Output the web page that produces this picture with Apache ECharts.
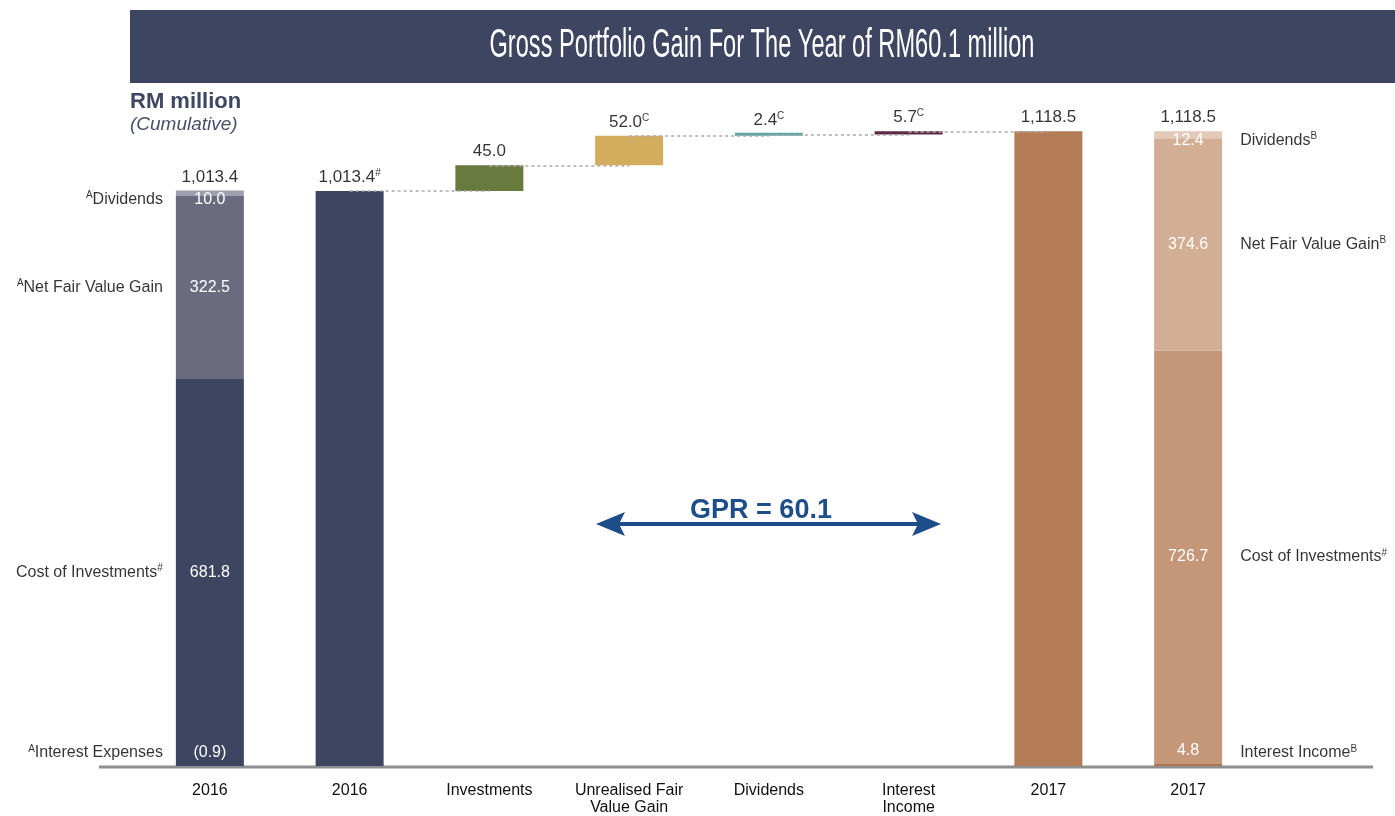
<!DOCTYPE html>
<html>
<head>
<meta charset="utf-8">
<script src="https://cdn.jsdelivr.net/npm/echarts@6/dist/echarts.min.js"></script>
<style>
html, body { margin: 0; padding: 0; background: #fff; }
#main { width: 1395px; height: 816px; }
</style>
</head>
<body>
<div id="main"></div>
<script>
var categories = ['2016', '2016', 'Investments', 'Unrealised Fair\nValue Gain', 'Dividends', 'Interest\nIncome', '2017', '2017'];

// 2016 breakdown, bottom to top
var open2016Values = [-0.9, 681.8, 322.5, 10.0];
var open2016Names = ['{s|A}Interest Expenses', 'Cost of Investments{s|#}', '{s|A}Net Fair Value Gain', '{s|A}Dividends'];
// 2017 breakdown, bottom to top
var close2017Values = [4.8, 726.7, 374.6, 12.4];
var close2017Names = ['Interest Income{s|B}', 'Cost of Investments{s|#}', 'Net Fair Value Gain{s|B}', 'Dividends{s|B}'];

var total2016 = 1013.4;
var total2017 = 1118.5;
var moveValues = [45.0, 52.0, 2.4, 5.7];   // Investments, Unrealised FV gain, Dividends, Interest income
var topNotes = ['', '#', '', 'C', 'C', 'C', '', ''];
var gprValue = 60.1;

var titleText = 'Gross Portfolio Gain For The Year of RM60.1 million';

// colours
var navy = '#3d4560';
var partColors2016 = [navy, navy, '#6a6b7f', '#a09fae'];
var partColors2017 = ['#ad7650', '#c59779', '#d1ae94', '#e3cab8'];
var moveColors = ['#687a3e', '#d4ac5e', '#5fa3a3', '#5e2a44'];
var totalColors = [navy, '#b37c56'];
var gprBlue = '#1d4e89';

function fmt(v) {
    var s = Math.abs(v).toFixed(1).replace(/\B(?=(\d{3})+(?!\d))/g, ',');
    return v < 0 ? '(' + s + ')' : s;
}
function blank() { return categories.map(function () { return '-'; }); }

var supRich = { s: { fontSize: 10, verticalAlign: 'top', lineHeight: 10 } };

var myChart = echarts.init(document.getElementById('main'));
var series = [];

// stacked breakdown bars (2016 left, 2017 right)
var partLabel = [
    { position: 'top', distance: 5 },
    { position: 'inside' },
    { position: 'inside' },
    { position: 'insideTop', distance: 1 }
];
for (var k = 0; k < 4; k++) {
    var d = blank();
    d[0] = { value: open2016Values[k], itemStyle: { color: partColors2016[k] } };
    d[7] = { value: close2017Values[k], itemStyle: { color: partColors2017[k] } };
    series.push({
        type: 'bar', stack: 'all', barWidth: 68, data: d,
        label: Object.assign({
            show: true, color: '#fff', fontSize: 16,
            formatter: function (p) { return fmt(p.value); }
        }, partLabel[k])
    });
}

// single total bars
var totalsData = blank();
totalsData[1] = { value: total2016, itemStyle: { color: totalColors[0] } };
totalsData[6] = { value: total2017, itemStyle: { color: totalColors[1] } };
series.push({ type: 'bar', stack: 'all', barWidth: 68, data: totalsData });

// waterfall
var baseData = blank();
var moveData = blank();
var levels = [total2016];
var run = total2016;
for (var i = 0; i < moveValues.length; i++) {
    baseData[i + 2] = run;
    moveData[i + 2] = { value: moveValues[i], itemStyle: { color: moveColors[i] } };
    run = Math.round((run + moveValues[i]) * 10) / 10;
    levels.push(run);
}
var connectors = levels.map(function (lvl, j) {
    return [{ coord: [j + 1, lvl] }, { coord: [j + 2, lvl] }];
});
series.push({
    type: 'bar', stack: 'all', barWidth: 68, data: baseData,
    itemStyle: { color: 'transparent' }, silent: true,
    markLine: {
        silent: true, symbol: 'none', label: { show: false },
        lineStyle: { color: '#a9a9a9', type: [3, 3], width: 1.5 },
        data: connectors
    }
});
series.push({ type: 'bar', stack: 'all', barWidth: 68, barMinHeight: 3, data: moveData });

// value labels above every column
var tops = [total2016].concat(levels.slice(0, 1)).concat(levels.slice(1)).concat([total2017, total2017]);
var topTexts = [total2016, total2016].concat(moveValues).concat([total2017, total2017]);
series.push({
    type: 'scatter', symbolSize: 0, silent: true,
    data: tops.map(function (v, j) { return [j, v]; }),
    label: {
        show: true, position: 'top', distance: 5, color: '#000', fontSize: 17, lineHeight: 18,
        rich: supRich,
        formatter: function (p) {
            var j = p.dataIndex;
            return fmt(topTexts[j]) + (topNotes[j] ? '{s|' + topNotes[j] + '}' : '');
        }
    }
});

// side names for the breakdown segments
function segAnchors(values) {
    var out = [], cum = 0;
    for (var k = 0; k < values.length; k++) {
        var v = values[k];
        if (v < 0) { out.push({ v: 0, dy: -13 }); continue; }
        if (k === 0) { out.push({ v: 0, dy: -13 }); cum += v; continue; }
        if (k === values.length - 1) { out.push({ v: cum + v, dy: 9 }); cum += v; continue; }
        out.push({ v: cum + v / 2, dy: 0 });
        cum += v;
    }
    return out;
}
var nameData = [];
segAnchors(open2016Values).forEach(function (a, k) {
    nameData.push({ value: [0, a.v], label: { position: 'left', distance: 47, offset: [0, a.dy], formatter: open2016Names[k] } });
});
segAnchors(close2017Values).forEach(function (a, k) {
    nameData.push({ value: [7, a.v], label: { position: 'right', distance: 52, offset: [0, a.dy], formatter: close2017Names[k] } });
});
series.push({
    type: 'scatter', symbolSize: 0, silent: true, data: nameData,
    label: { show: true, color: '#000', fontSize: 16, lineHeight: 18, rich: supRich }
});

// condensed header title
var ctx = document.createElement('canvas').getContext('2d');
ctx.font = '40px "Liberation Sans"';
var titleScale = 545 / ctx.measureText(titleText).width;

var option = {
    animation: false,
    textStyle: { fontFamily: '"Liberation Sans", Arial, sans-serif' },
    grid: { left: 140, right: 137, top: 85, bottom: 50, containLabel: false },
    xAxis: {
        type: 'category', data: categories,
        axisLine: { show: false }, axisTick: { show: false },
        axisLabel: { interval: 0, color: '#111', fontSize: 16, lineHeight: 17, margin: 16 }
    },
    yAxis: { type: 'value', min: 0, max: 1200, show: false },
    series: series,
    graphic: [
        { type: 'rect', shape: { x: 130, y: 10, width: 1265, height: 73 }, style: { fill: navy }, silent: true },
        {
            type: 'text', x: 762, y: 46, scaleX: titleScale, silent: true,
            style: { text: titleText, fill: '#fff', fontSize: 40, fontFamily: '"Liberation Sans"', align: 'center', verticalAlign: 'middle' }
        },
        { type: 'text', x: 130, y: 102, style: { text: 'RM million', fill: '#3e4660', fontSize: 22, fontWeight: 'bold', fontFamily: '"Liberation Sans"', verticalAlign: 'middle' } },
        { type: 'text', x: 130, y: 125, style: { text: '(Cumulative)', fill: '#4a5069', fontSize: 19, fontStyle: 'italic', fontFamily: '"Liberation Sans"', verticalAlign: 'middle' } },
        { type: 'line', shape: { x1: 99, y1: 767, x2: 1373, y2: 767 }, style: { stroke: '#8e8e8e', lineWidth: 3 }, silent: true },
        // GPR double arrow
        { type: 'line', shape: { x1: 612, y1: 524, x2: 925, y2: 524 }, style: { stroke: gprBlue, lineWidth: 4 }, silent: true },
        { type: 'polygon', shape: { points: [[596, 524], [625, 512], [619, 524], [625, 536]] }, style: { fill: gprBlue }, silent: true },
        { type: 'polygon', shape: { points: [[941, 524], [912, 512], [918, 524], [912, 536]] }, style: { fill: gprBlue }, silent: true },
        {
            type: 'text', x: 761, y: 511, silent: true,
            style: { text: 'GPR = ' + gprValue.toFixed(1), fill: gprBlue, fontSize: 27, fontWeight: 'bold', fontFamily: '"Liberation Sans"', align: 'center', verticalAlign: 'middle' }
        }
    ]
};
myChart.setOption(option);
</script>
</body>
</html>
